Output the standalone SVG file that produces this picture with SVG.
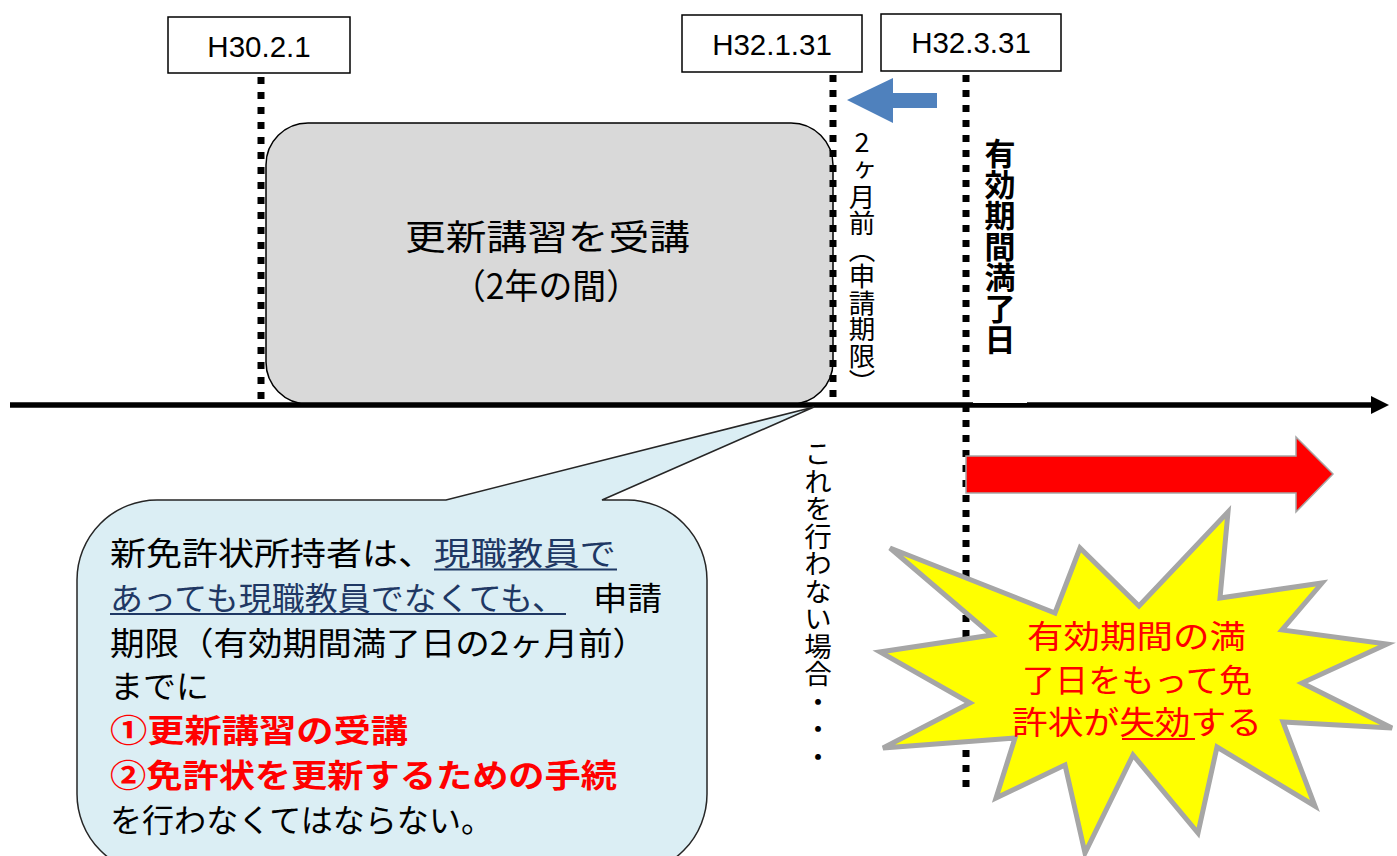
<svg xmlns="http://www.w3.org/2000/svg" width="1397" height="856" viewBox="0 0 1397 856">
<style>
.lbl{font-family:"Liberation Sans",Arial,sans-serif;font-size:29.5px;fill:#000;text-anchor:middle}
.jp{font-family:"Noto Sans CJK JP","Noto Sans",sans-serif}
.box{fill:#fff;stroke:#000;stroke-width:1.5}
.dot{stroke:#000;stroke-width:7;stroke-dasharray:7 8;fill:none}
.bt{font-size:32px;fill:#000}
.navy{fill:#1f3864}
.red{fill:#ff0000}
.vt{writing-mode:vertical-rl;text-orientation:mixed}
</style>
<rect width="1397" height="856" fill="#fff"/>

<g id="course">
<rect x="266" y="123" width="567" height="281" rx="42" ry="42" fill="#d9d9d9" stroke="#000" stroke-width="1.5"/>
<text class="jp" x="405" y="250" font-size="35" textLength="285" lengthAdjust="spacingAndGlyphs" fill="#000">更新講習を受講</text>
<text class="jp" x="452" y="299" font-size="35" textLength="188" lengthAdjust="spacingAndGlyphs" fill="#000">（2年の間）</text>
</g>

<g id="connectors">
<line class="dot" x1="261" y1="77" x2="261" y2="404"/>
<line class="dot" x1="833" y1="75" x2="833" y2="404"/>
<line class="dot" x1="966" y1="75" x2="966" y2="790"/>
<line x1="10" y1="405" x2="1374" y2="405" stroke="#000" stroke-width="5.5"/>
<polygon points="1371,396 1389,405 1371,414" fill="#000"/>
<polygon id="blue-arrow" points="847,100 893,78 893,93 937,93 937,108 893,108 893,123" fill="#4f81bd"/>
<polygon id="red-arrow" points="966,456 1296,456 1296,437 1333,474 1296,512 1296,493 966,493" fill="#ff0000" stroke="#a6a6a6" stroke-width="1.5"/>
</g>

<g id="date-h30">
<rect class="box" x="168" y="17" width="182" height="56"/>
<text class="lbl" x="259" y="57">H30.2.1</text>
</g>
<g id="date-h32-1">
<rect class="box" x="682" y="15" width="180" height="57"/>
<text class="lbl" x="772" y="55">H32.1.31</text>
</g>
<g id="date-h32-3">
<rect class="box" x="881" y="14" width="180" height="57" stroke-width="2.5"/>
<text class="lbl" x="971" y="53">H32.3.31</text>
</g>

<g id="deadline-label">
<text class="jp" x="862" y="152" font-size="27" text-anchor="middle" fill="#000">2</text>
<text class="jp vt" x="862" y="157" font-size="26.5" fill="#000">ヶ月前（申請期限）</text>
</g>

<g id="expiry-label">
<rect x="973" y="130" width="54" height="273" fill="#fff"/>
<text class="jp vt" x="1000" y="138" font-size="31" font-weight="bold" fill="#000">有効期間満了日</text>
</g>

<g id="otherwise-label">
<text class="jp vt" x="818" y="440" font-size="27.5" fill="#000">これを行わない場合・・・</text>
</g>

<g id="callout">
<path d="M157,500 L446,500 L814,407 L602,500 L627,500 A80,80 0 0 1 707,580 L707,794 A80,80 0 0 1 627,874 L157,874 A80,80 0 0 1 77,794 L77,580 A80,80 0 0 1 157,500 Z" fill="#dbeef4" stroke="#262626" stroke-width="1.5"/>
<g class="jp">
<text class="bt" x="110" y="565" textLength="324" lengthAdjust="spacingAndGlyphs">新免許状所持者は、</text>
<text class="bt navy" x="434" y="565" textLength="182" lengthAdjust="spacingAndGlyphs">現職教員で</text>
<line x1="434" y1="569.5" x2="617" y2="569.5" stroke="#1f3864" stroke-width="1.8"/>
<text class="bt navy" x="110" y="610" textLength="455" lengthAdjust="spacingAndGlyphs">あっても現職教員でなくても、</text>
<line x1="110" y1="614" x2="566" y2="614" stroke="#1f3864" stroke-width="1.8"/>
<text class="bt" x="593" y="610" textLength="69" lengthAdjust="spacingAndGlyphs">申請</text>
<text class="bt" x="110" y="655" textLength="537" lengthAdjust="spacingAndGlyphs">期限（有効期間満了日の2ヶ月前）</text>
<text class="bt" x="110" y="698" textLength="99" lengthAdjust="spacingAndGlyphs">までに</text>
<text class="bt red" x="110" y="742" font-weight="bold" textLength="298" lengthAdjust="spacingAndGlyphs">①更新講習の受講</text>
<text class="bt red" x="110" y="787" font-weight="bold" textLength="507" lengthAdjust="spacingAndGlyphs">②免許状を更新するための手続</text>
<text class="bt" x="110" y="832" textLength="383" lengthAdjust="spacingAndGlyphs">を行わなくてはならない。</text>
</g>
</g>

<g id="burst">
<polygon points="890,548 1055,613 1080,548 1139,606 1228,512 1220,598 1322,583 1282,630 1387,644 1302,683 1392,728 1283,722 1315,806 1217,747 1198,833 1133,755 1085,853 1065,765 996,798 1015,738 883,748 970,703 880,652 992,635" fill="#ffff00" stroke="#a6a6a6" stroke-width="5" stroke-linejoin="miter"/>
<g class="jp" fill="#ff0000">
<text x="1027" y="648" font-size="32" textLength="219" lengthAdjust="spacingAndGlyphs">有効期間の満</text>
<text x="1022" y="692" font-size="32" textLength="230" lengthAdjust="spacingAndGlyphs">了日をもって免</text>
<text x="1012" y="734" font-size="32" textLength="250" lengthAdjust="spacingAndGlyphs">許状が失効する</text>
</g>
<line x1="1122" y1="739" x2="1195" y2="739" stroke="#ff0000" stroke-width="1.8"/>
</g>
</svg>
